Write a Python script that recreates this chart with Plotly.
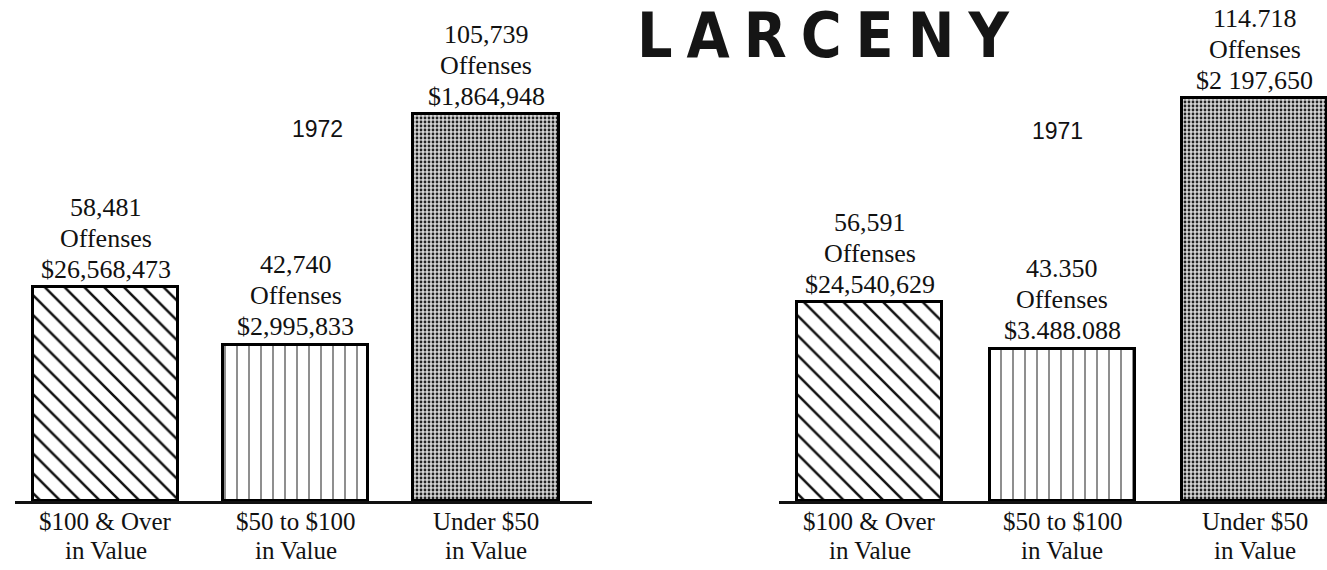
import plotly.graph_objects as go

# ---- data ----
categories = ["$100 & Over", "$50 to $100", "Under $50"]
category_sub = "in Value"

offenses_1972 = [58481, 42740, 105739]
offense_text_1972 = ["58,481", "42,740", "105,739"]
value_text_1972 = ["$26,568,473", "$2,995,833", "$1,864,948"]

offenses_1971 = [56591, 43350, 114718]
offense_text_1971 = ["56,591", "43.350", "114.718"]
value_text_1971 = ["$24,540,629", "$3.488.088", "$2 197,650"]

title_text = "LARCENY"
years = ["1972", "1971"]

W, H = 1327, 570
SERIF = "Liberation Serif, Times New Roman, serif"
SANS = "Liberation Sans, Arial, sans-serif"

pattern = dict(
    shape=["\\", "|", "."],
    size=[14, 12, 4],
    solidity=[0.18, 0.1, 0.38],
    fgcolor=["#111111", "#444444", "#222222"],
    bgcolor=["white", "white", "#d4d4d4"],
    fillmode="replace",
)

x_idx = list(range(len(categories)))

fig = go.Figure()
fig.add_trace(go.Bar(
    x=x_idx, y=offenses_1972, width=0.763,
    marker=dict(color="white", line=dict(color="black", width=3), pattern=pattern),
    xaxis="x", yaxis="y", showlegend=False, hoverinfo="skip",
))
fig.add_trace(go.Bar(
    x=x_idx, y=offenses_1971, width=0.754,
    marker=dict(color="white", line=dict(color="black", width=3), pattern=pattern),
    xaxis="x2", yaxis="y2", showlegend=False, hoverinfo="skip",
))

ydom = [69 / H, 1.0]
axis_common = dict(showgrid=False, zeroline=False, showticklabels=False, ticks="",
                   fixedrange=True)
fig.update_layout(
    width=W, height=H,
    margin=dict(l=0, r=0, t=0, b=0),
    paper_bgcolor="white", plot_bgcolor="white",
    xaxis=dict(domain=[15 / W, 592 / W], range=[-0.476, 2.557], anchor="y",
               showline=True, linewidth=3, linecolor="#111", **axis_common),
    yaxis=dict(domain=ydom, range=[0, 136960], anchor="x", visible=False, fixedrange=True),
    xaxis2=dict(domain=[779 / W, 1.0], range=[-0.473, 2.377], anchor="y2",
                showline=True, linewidth=3, linecolor="#111", **axis_common),
    yaxis2=dict(domain=ydom, range=[0, 142674], anchor="x2", visible=False, fixedrange=True),
    bargap=0,
)

annotations = []
label_font = dict(family=SERIF, size=26, color="#111")
for xref, yref, vals, otext, vtext in [
    ("x", "y", offenses_1972, offense_text_1972, value_text_1972),
    ("x2", "y2", offenses_1971, offense_text_1971, value_text_1971),
]:
    for i, v in enumerate(vals):
        for line, shift in [(vtext[i], 18), ("Offenses", 49), (otext[i], 80)]:
            annotations.append(dict(
                x=i, y=v, xref=xref, yref=yref, text=line, showarrow=False,
                yanchor="middle", xanchor="center", yshift=shift, font=label_font,
            ))
        for line, shift in [(categories[i], -20), (category_sub, -49)]:
            annotations.append(dict(
                x=i, y=0, xref=xref, yref=yref, text=line, showarrow=False,
                yanchor="middle", xanchor="center", yshift=shift,
                font=dict(family=SERIF, size=25, color="#111"),
            ))

# year labels
annotations.append(dict(x=317 / W, y=1 - 129 / H, xref="paper", yref="paper", text=years[0],
                        showarrow=False, xanchor="center", yanchor="middle",
                        font=dict(family=SANS, size=23, color="#111")))
annotations.append(dict(x=1057 / W, y=1 - 131 / H, xref="paper", yref="paper", text=years[1],
                        showarrow=False, xanchor="center", yanchor="middle",
                        font=dict(family=SANS, size=23, color="#111")))

# title
annotations.append(dict(
    x=823 / W, y=1 - 36 / H, xref="paper", yref="paper",
    text='<span style="letter-spacing:14px">' + title_text + '</span>',
    showarrow=False, xanchor="center", yanchor="middle", xshift=7,
    font=dict(family="Liberation Sans Narrow, DejaVu Sans Condensed, Arial Narrow, sans-serif",
              size=62, color="#151515", weight="bold"),
))

fig.update_layout(annotations=annotations)
fig.write_html("out.html", config={"displayModeBar": False},
               post_script="document.body.style.margin='0px';")
